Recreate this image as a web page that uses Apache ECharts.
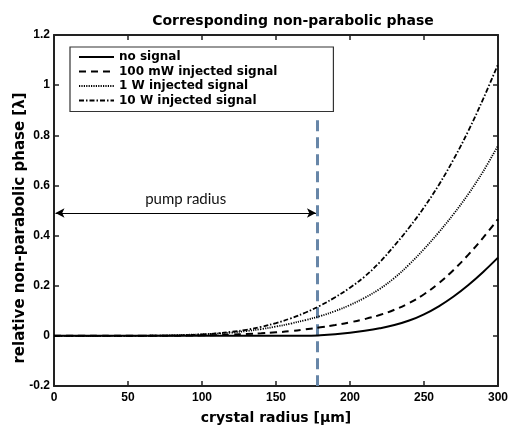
<!DOCTYPE html>
<html>
<head>
<meta charset="utf-8">
<script src="https://cdn.jsdelivr.net/npm/echarts@6/dist/echarts.min.js"></script>
<style>html,body{margin:0;padding:0;background:#fff;}#c{width:511px;height:430px;}</style>
</head>
<body>
<div id="c"></div>
<script>
var radius = [0,10,20,30,40,50,60,70,80,90,100,110,120,130,140,150,160,170,180,190,200,210,220,230,240,250,260,270,280,290,300];
var noSignal = [0,0,0,0,0,0,0,0,0,0,0,0,0,0,0,0,0,0,0.002,0.006,0.012,0.020,0.030,0.043,0.061,0.086,0.118,0.157,0.203,0.255,0.312];
var sig100mW = [0,0,0,0,0,0,0,0,0,0.001,0.002,0.003,0.005,0.007,0.010,0.014,0.019,0.026,0.034,0.043,0.054,0.067,0.083,0.104,0.131,0.166,0.210,0.263,0.324,0.392,0.466];
var sig1W = [0,0,0,0,0,0,0,0.001,0.002,0.004,0.006,0.009,0.013,0.019,0.027,0.037,0.049,0.063,0.079,0.099,0.123,0.152,0.187,0.231,0.285,0.346,0.413,0.486,0.566,0.656,0.759];
var sig10W = [0,0,0,0,0,0,0.0003,0.0008,0.0015,0.003,0.006,0.010,0.016,0.024,0.036,0.051,0.070,0.093,0.121,0.154,0.192,0.237,0.293,0.360,0.432,0.512,0.602,0.704,0.818,0.945,1.083];
var seriesNames = ['no signal','100 mW injected signal','1 W injected signal','10 W injected signal'];
var pumpRadius = 178;
var pumpLineTop = 0.86;
var arrowLevel = 0.49;

function pairs(ys){ return radius.map(function(x,i){ return [x, ys[i]]; }); }

var chart = echarts.init(document.getElementById('c'));
var F = 'Liberation Sans, Arial, sans-serif';
var W = 'DejaVu Sans, sans-serif';
var axisCommon = {
  type: 'value',
  axisLine: {show: true, onZero: false, lineStyle: {color: '#222', width: 2}},
  axisTick: {show: true, inside: true, length: 5, lineStyle: {color: '#222', width: 1.5}},
  splitLine: {show: false}
};
function lineSeries(name, ys, type, width){
  return {
    name: name, type: 'line', data: pairs(ys), symbol: 'none', showSymbol: false,
    smooth: 0.4,
    lineStyle: {color: '#000', width: width, type: type},
    itemStyle: {color: '#000'},
    z: 3
  };
}
var s0 = lineSeries(seriesNames[0], noSignal, 'solid', 2);
s0.markLine = {
  silent: true, animation: false, z: 2,
  data: [
    [{coord: [pumpRadius, pumpLineTop], symbol: 'none', lineStyle: {color: '#6786a8', width: 3, type: [11, 6]}, label: {show: false}},
     {coord: [pumpRadius, -0.2], symbol: 'none'}],
    [{coord: [1, arrowLevel], symbol: 'arrow', symbolSize: [7, 9], lineStyle: {color: '#000', width: 1.2, type: 'solid'},
      label: {show: true, formatter: 'pump radius', position: 'middle', distance: 6, color: '#111', fontSize: 15, fontFamily: 'Lato, Open Sans, sans-serif', fontWeight: 'normal'}},
     {coord: [pumpRadius - 1, arrowLevel], symbol: 'arrow', symbolSize: [7, 9]}]
  ]
};
chart.setOption({
  animation: false,
  backgroundColor: '#fff',
  title: {text: 'Corresponding non-parabolic phase', left: 288, top: 9, textAlign: 'center',
    textStyle: {fontFamily: W, fontWeight: 'bold', fontSize: 14, color: '#000'}},
  grid: {left: 54, right: 9, top: 35, bottom: 41, containLabel: false},
  legend: {
    orient: 'vertical', left: 70, top: 47,
    padding: [3, 56, 4, 8], itemGap: 0.5, itemWidth: 35, itemHeight: 10,
    borderColor: '#333', borderWidth: 1.2, backgroundColor: '#fff',
    itemStyle: {color: 'rgba(0,0,0,0)', borderWidth: 0, opacity: 0},
    textStyle: {fontFamily: W, fontWeight: 'bold', fontSize: 12, color: '#000', lineHeight: 14},
    data: seriesNames
  },
  xAxis: [
    Object.assign({}, axisCommon, {min: 0, max: 300, interval: 50, position: 'bottom',
      name: 'crystal radius [µm]', nameLocation: 'middle', nameGap: 25,
      nameTextStyle: {fontFamily: W, fontWeight: 'bold', fontSize: 14, color: '#000'},
      axisLabel: {fontFamily: F, fontWeight: 'bold', fontSize: 12, color: '#000', margin: 6}}),
    Object.assign({}, axisCommon, {min: 0, max: 300, interval: 50, position: 'top', axisLabel: {show: false}})
  ],
  yAxis: [
    Object.assign({}, axisCommon, {min: -0.2, max: 1.2, interval: 0.2, position: 'left',
      axisLabel: {fontFamily: F, fontWeight: 'bold', fontSize: 12, color: '#000', margin: 4}}),
    Object.assign({}, axisCommon, {min: -0.2, max: 1.2, interval: 0.2, position: 'right', axisLabel: {show: false}})
  ],
  graphic: [{
    type: 'text', x: 20, y: 228, rotation: Math.PI / 2,
    style: {text: 'relative non-parabolic phase [λ]', fontFamily: W, fontWeight: 'bold', fontSize: 15, fill: '#000', align: 'center', verticalAlign: 'middle'}
  }],
  series: [
    s0,
    lineSeries(seriesNames[1], sig100mW, [7, 5], 2),
    lineSeries(seriesNames[2], sig1W, [1.2, 1.2], 1.8),
    lineSeries(seriesNames[3], sig10W, [5, 2, 1.5, 2], 1.8)
  ]
});
</script>
</body>
</html>
